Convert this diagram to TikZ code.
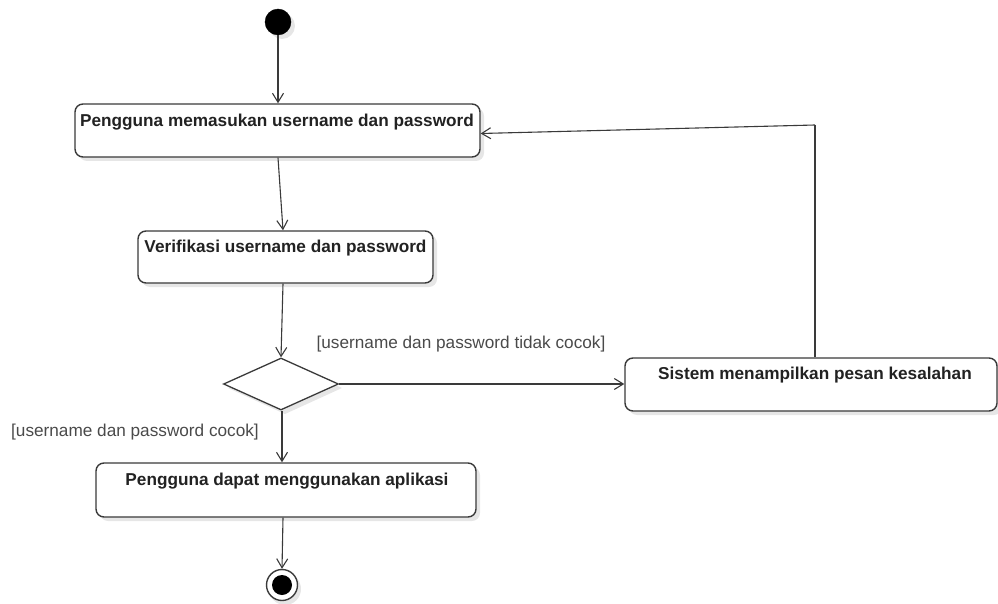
\documentclass[tikz,border=0pt]{standalone}
\usepackage{fontspec}
\setmainfont{Liberation Sans}
\usetikzlibrary{arrows.meta,shapes.geometric,calc}
\definecolor{linec}{HTML}{3A3A3A}
\definecolor{textc}{HTML}{222222}
\definecolor{guardc}{HTML}{4A4A4A}
\definecolor{shadowc}{HTML}{E6E6E6}
\tikzset{
  actbox/.style={draw=linec, line width=1.4pt, rounded corners=8pt, fill=white, inner sep=0pt},
  acttext/.style={font=\fontsize{17.2}{19}\selectfont\bfseries, text=textc, inner sep=0pt},
  guard/.style={font=\fontsize{17.2}{19}\selectfont, text=guardc, inner sep=0pt},
  flow/.style={draw=linec, line width=1.1pt, -{Straight Barb[length=9pt,width=11pt,line width=1.1pt]}},
  plainflow/.style={draw=linec, line width=1.1pt},
  decision/.style={draw=linec, line width=1.3pt, fill=white, diamond, inner sep=0pt, minimum width=115pt, minimum height=52pt},
}
\begin{document}
\begin{tikzpicture}[x=1pt,y=-1pt]
\useasboundingbox (0,0) rectangle (998,604);
% shadows
\fill[shadowc] (282,26) circle (13);
\fill[shadowc, rounded corners=8pt] (79,108) rectangle (484,161);
\fill[shadowc, rounded corners=8pt] (142,235) rectangle (437,287);
\fill[shadowc] (285,362) -- (342,388) -- (285,414) -- (228,388) -- cycle;
\fill[shadowc, rounded corners=8pt] (629,362) rectangle (1002,415);
\fill[shadowc, rounded corners=8pt] (100,467) rectangle (480,521);
\fill[shadowc] (285,589) circle (16);
% initial node
\node[circle, fill=black, draw=black, minimum size=26pt, inner sep=0pt] (start) at (278,22) {};
% activities
\node[actbox, minimum width=405pt, minimum height=53pt] (b1) at (277.5,130.5) {};
\node[acttext] (t1) at (277,122) {Pengguna memasukan username dan password};
\node[actbox, minimum width=295pt, minimum height=52pt] (b2) at (285.5,257) {};
\node[acttext] (t2) at (285.5,248) {Verifikasi username dan password};
\node[decision] (d) at (281,384) {};
\node[actbox, minimum width=372pt, minimum height=53pt] (b3) at (811,384.5) {};
\node[acttext] (t3) at (815,375) {Sistem menampilkan pesan kesalahan};
\node[actbox, minimum width=380pt, minimum height=54pt] (b4) at (286,490) {};
\node[acttext] (t4) at (287,481) {Pengguna dapat menggunakan aplikasi};
% final node
\node[circle, draw=linec, line width=1.4pt, fill=white, minimum size=31pt, inner sep=0pt] (fin) at (282,585) {};
\node[circle, fill=black, minimum size=20pt, inner sep=0pt] (finin) at (282,585) {};
% guards
\node[guard] (g1) at (461,344) {[username dan password tidak cocok]};
\node[guard] (g2) at (135,432) {[username dan password cocok]};
% flows
\coordinate (fb) at (815,125);
\draw[flow] (start.south) -- (start.south |- b1.north);
\draw[flow] ([xshift=0.5pt]b1.south) -- ([xshift=-2.5pt]b2.north);
\draw[flow] ([xshift=-2.5pt]b2.south) -- (d.north);
\draw[flow] (d.east) -- (d.east -| b3.west);
\draw[plainflow] (b3.north -| fb) -- (fb);
\draw[flow] (fb) -- ([yshift=-3pt]b1.east);
\draw[flow] ([xshift=1pt]d.south) -- ([xshift=1pt]d.south |- b4.north);
\draw[flow] ([xshift=-3pt]b4.south) -- (fin.north);
\end{tikzpicture}
\end{document}
